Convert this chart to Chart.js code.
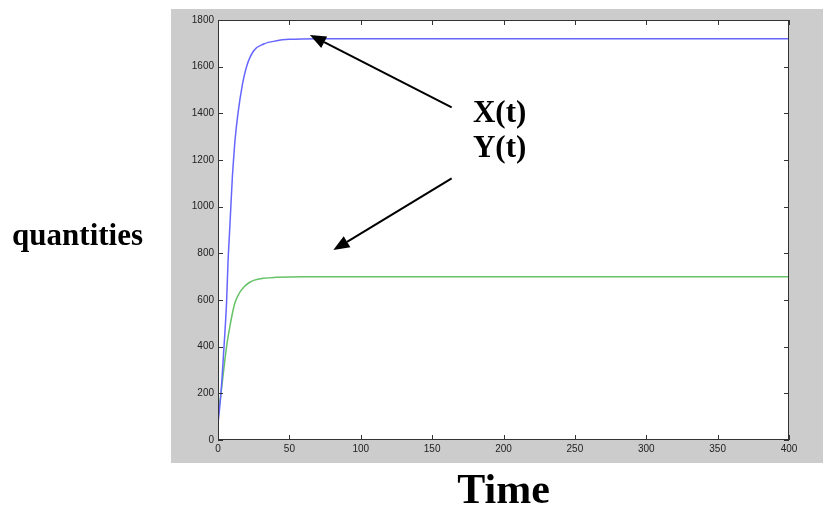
<!DOCTYPE html>
<html>
<head>
<meta charset="utf-8">
<script src="https://cdn.jsdelivr.net/npm/chart.js@4/dist/chart.umd.min.js"></script>
<style>
  html, body { margin: 0; padding: 0; background: #ffffff; }
  canvas { display: block; }
</style>
</head>
<body>
<canvas id="chart" width="823" height="509"></canvas>
<script>
"use strict";

// X(t) – blue curve
const timeX = [0, 2, 4, 6, 7, 8, 9, 10, 11, 12, 14, 17, 20, 25, 32, 41, 50, 70, 400];
const valuesX = [70, 195, 380, 590, 760, 880, 1000, 1120, 1210, 1290, 1400, 1520, 1600, 1668, 1697, 1711, 1717, 1720, 1720];

// Y(t) – green curve
const timeY = [0, 2, 4, 6, 8, 10, 12, 15, 18, 22, 25, 32, 41, 60, 400];
const valuesY = [115, 195, 300, 400, 475, 540, 590, 630, 655, 675, 684, 693, 697, 700, 700];

const seriesLabels = ["X(t)", "Y(t)"];
const yAxisLabel = "quantities";
const xAxisLabel = "Time";

const serif = '"Liberation Serif", "Times New Roman", serif';

/** @type {(t: number[], v: number[]) => {x: number, y: number}[]} */
const toPoints = (t, v) => t.map((x, i) => ({ x, y: v[i] }));

const main = () => {
  const canvas = document.getElementById("chart");
  if (!(canvas instanceof HTMLCanvasElement)) throw new Error();

  // annotation anchors, in data units
  const arrows = [
    { from: [163.7, 1426], to: [64.4, 1736] },
    { from: [163.7, 1121], to: [80.8, 814] },
  ];
  const notes = [
    { text: seriesLabels[0], at: [178.6, 1364] },
    { text: seriesLabels[1], at: [178.6, 1214] },
  ];

  const framePlugin = {
    id: "frame",
    beforeDraw: (chart) => {
      const { ctx, chartArea: a } = chart;
      ctx.save();
      ctx.fillStyle = "#cccccc";
      ctx.fillRect(a.left - 47, a.top - 11, chart.width - (a.left - 47), a.bottom - a.top + 34);
      ctx.fillStyle = "#ffffff";
      ctx.fillRect(a.left, a.top, a.right - a.left, a.bottom - a.top);
      ctx.restore();
    },
    afterDraw: (chart) => {
      const { ctx, chartArea: a } = chart;
      const xs = chart.scales.x;
      const ys = chart.scales.y;

      ctx.save();

      // box + inner ticks
      ctx.strokeStyle = "#333333";
      ctx.lineWidth = 1;
      ctx.strokeRect(a.left + 0.5, a.top + 0.5, a.right - a.left - 1, a.bottom - a.top - 1);

      ctx.beginPath();
      xs.ticks.forEach(({ value }) => {
        const px = Math.round(xs.getPixelForValue(value)) + 0.5;
        ctx.moveTo(px, a.bottom);
        ctx.lineTo(px, a.bottom - 5);
        ctx.moveTo(px, a.top);
        ctx.lineTo(px, a.top + 5);
      });
      ys.ticks.forEach(({ value }) => {
        const py = Math.round(ys.getPixelForValue(value)) + 0.5;
        ctx.moveTo(a.left, py);
        ctx.lineTo(a.left + 5, py);
        ctx.moveTo(a.right, py);
        ctx.lineTo(a.right - 5, py);
      });
      ctx.stroke();

      // arrows
      ctx.strokeStyle = "#000000";
      ctx.fillStyle = "#000000";
      ctx.lineWidth = 2;
      arrows.forEach(({ from, to }) => {
        const x0 = xs.getPixelForValue(from[0]);
        const y0 = ys.getPixelForValue(from[1]);
        const x1 = xs.getPixelForValue(to[0]);
        const y1 = ys.getPixelForValue(to[1]);
        const ang = Math.atan2(y1 - y0, x1 - x0);
        const len = 16;
        const half = 6.5;
        const bx = x1 - len * Math.cos(ang);
        const by = y1 - len * Math.sin(ang);

        ctx.beginPath();
        ctx.moveTo(x0, y0);
        ctx.lineTo(bx, by);
        ctx.stroke();

        ctx.beginPath();
        ctx.moveTo(x1, y1);
        ctx.lineTo(bx + half * Math.sin(ang), by - half * Math.cos(ang));
        ctx.lineTo(bx - half * Math.sin(ang), by + half * Math.cos(ang));
        ctx.closePath();
        ctx.fill();
      });

      // series notes
      ctx.font = `bold 31px ${serif}`;
      ctx.textAlign = "left";
      ctx.textBaseline = "alphabetic";
      notes.forEach(({ text, at }) => {
        ctx.fillText(text, xs.getPixelForValue(at[0]), ys.getPixelForValue(at[1]));
      });

      // axis titles
      ctx.textAlign = "right";
      ctx.fillText(yAxisLabel, a.left - 75, a.top + 225);

      ctx.font = `bold 42px ${serif}`;
      ctx.textAlign = "center";
      ctx.fillText(xAxisLabel, xs.getPixelForValue(200), a.bottom + 63);

      ctx.restore();
    },
  };

  const tickFont = { family: '"Liberation Sans", Arial, sans-serif', size: 10 };
  const plainNumber = (value) => String(value);

  new Chart(canvas, {
    type: "line",
    data: {
      datasets: [
        {
          label: seriesLabels[0],
          data: toPoints(timeX, valuesX),
          borderColor: "#6666ff",
          borderWidth: 1.5,
          pointRadius: 0,
          cubicInterpolationMode: "monotone",
        },
        {
          label: seriesLabels[1],
          data: toPoints(timeY, valuesY),
          borderColor: "#66c266",
          borderWidth: 1.5,
          pointRadius: 0,
          cubicInterpolationMode: "monotone",
        },
      ],
    },
    options: {
      responsive: false,
      animation: false,
      events: [],
      layout: { padding: { left: 171, top: 20, right: 34, bottom: 46 } },
      plugins: {
        legend: { display: false },
        tooltip: { enabled: false },
      },
      scales: {
        x: {
          type: "linear",
          min: 0,
          max: 400,
          grid: { display: false, drawTicks: false },
          border: { display: false },
          ticks: { stepSize: 50, padding: 3, color: "#222222", font: tickFont, maxRotation: 0, callback: plainNumber },
          afterFit: (scale) => { scale.height = 23; },
        },
        y: {
          min: 0,
          max: 1800,
          grid: { display: false, drawTicks: false },
          border: { display: false },
          ticks: { stepSize: 200, padding: 4, color: "#222222", font: tickFont, callback: plainNumber },
          afterFit: (scale) => { scale.width = 47; },
        },
      },
    },
    plugins: [framePlugin],
  });
};

main();
</script>
</body>
</html>
